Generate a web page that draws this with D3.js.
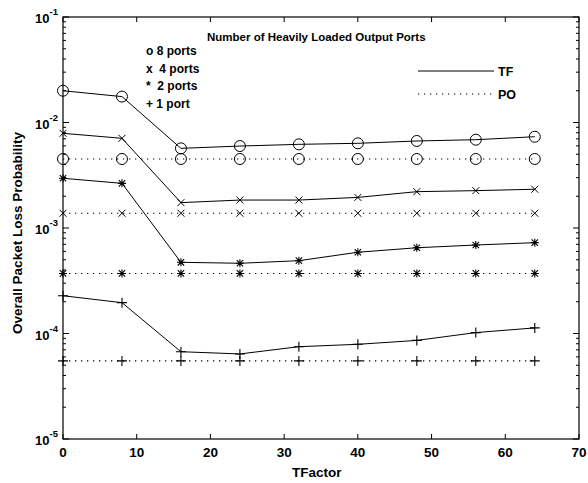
<!DOCTYPE html>
<html><head><meta charset="utf-8">
<script src="https://cdn.jsdelivr.net/npm/d3@7/dist/d3.min.js"></script>
<style>
html,body{margin:0;padding:0;background:#fff;}
svg{display:block;font-family:"Liberation Sans",Arial,Helvetica,sans-serif;}
</style></head>
<body>
<svg id="c" width="588" height="483"></svg>
<script>
// ---- data ----
const tfactor = [0, 8, 16, 24, 32, 40, 48, 56, 64];
const tf8 = [0.0200, 0.0176, 0.00569, 0.00598, 0.00621, 0.00635, 0.00668, 0.00687, 0.00733];
const po8 = [0.00451, 0.00451, 0.00451, 0.00451, 0.00451, 0.00451, 0.00451, 0.00451, 0.00451];
const tf4 = [0.0079, 0.00708, 0.00174, 0.00184, 0.00184, 0.00195, 0.00221, 0.00226, 0.00233];
const po4 = [0.00138, 0.00138, 0.00138, 0.00138, 0.00138, 0.00138, 0.00138, 0.00138, 0.00138];
const tf2 = [0.00296, 0.00265, 0.000473, 0.000463, 0.00049, 0.000589, 0.00065, 0.00069, 0.000726];
const po2 = [0.000371, 0.000371, 0.000371, 0.000371, 0.000371, 0.000371, 0.000371, 0.000371, 0.000371];
const tf1 = [0.000228, 0.000196, 0.0000672, 0.000064, 0.000075, 0.000079, 0.000086, 0.000102, 0.000113];
const po1 = [0.000055, 0.000055, 0.000055, 0.000055, 0.000055, 0.000055, 0.000055, 0.000055, 0.000055];
const xTicks = [0, 10, 20, 30, 40, 50, 60, 70];
const yDecades = [-5, -4, -3, -2, -1];
const legendPorts = ["o 8 ports", "x  4 ports", "*  2 ports", "+ 1 port"];
const legendTitle = "Number of Heavily Loaded Output Ports";
const legendLines = ["TF", "PO"];
const xLabel = "TFactor";
const yLabel = "Overall Packet Loss Probability";

const series = [
  {vals: tf8, marker: "o", dotted: false}, {vals: po8, marker: "o", dotted: true},
  {vals: tf4, marker: "x", dotted: false}, {vals: po4, marker: "x", dotted: true},
  {vals: tf2, marker: "*", dotted: false}, {vals: po2, marker: "*", dotted: true},
  {vals: tf1, marker: "+", dotted: false}, {vals: po1, marker: "+", dotted: true}
];

// ---- layout ----
const L = 63, R = 579, T = 17, B = 439;
const svg = d3.select("#c");
const x = d3.scaleLinear().domain([0, 70]).range([L, R]);
const y = d3.scaleLog().domain([1e-5, 1e-1]).range([B, T]);

const g = svg.append("g");
const ink = "#000";

// frame
g.append("rect").attr("x", L).attr("y", T).attr("width", R - L).attr("height", B - T)
  .attr("fill", "none").attr("stroke", ink).attr("stroke-width", 1.2);

// x ticks (inward, top & bottom)
xTicks.forEach(v => {
  const px = x(v);
  g.append("line").attr("x1", px).attr("x2", px).attr("y1", B).attr("y2", B - 5).attr("stroke", ink);
  g.append("line").attr("x1", px).attr("x2", px).attr("y1", T).attr("y2", T + 5).attr("stroke", ink);
  g.append("text").attr("x", px).attr("y", B + 18).attr("text-anchor", "middle")
    .attr("font-size", 13.5).attr("font-weight", "bold").attr("fill", ink).text(v);
});

// y ticks: decades major + minor
yDecades.forEach(d => {
  const base = Math.pow(10, d);
  const py = y(base);
  g.append("line").attr("x1", L).attr("x2", L + 6).attr("y1", py).attr("y2", py).attr("stroke", ink);
  g.append("line").attr("x1", R).attr("x2", R - 6).attr("y1", py).attr("y2", py).attr("stroke", ink);
  const t = g.append("text").attr("x", 35).attr("y", py + 6).attr("font-size", 13).attr("font-weight", "bold").attr("fill", ink);
  t.append("tspan").text("10");
  t.append("tspan").attr("dy", -8).attr("font-size", 9.5).text(String(d).replace("-", "-"));
  if (d < -1) {
    for (let m = 2; m <= 9; m++) {
      const my = y(base * m);
      g.append("line").attr("x1", L).attr("x2", L + 3).attr("y1", my).attr("y2", my).attr("stroke", ink);
      g.append("line").attr("x1", R).attr("x2", R - 3).attr("y1", my).attr("y2", my).attr("stroke", ink);
    }
  }
});

// axis labels
g.append("text").attr("x", 292).attr("y", 477).attr("font-size", 13.5).attr("font-weight", "bold").attr("fill", ink).text(xLabel);
g.append("text").attr("transform", "translate(22,233) rotate(-90)").attr("text-anchor", "middle")
  .attr("font-size", 13.5).attr("font-weight", "bold").attr("fill", ink).text(yLabel);

// markers
function drawMarker(sel, type, cx, cy) {
  if (type === "o") {
    sel.append("circle").attr("cx", cx).attr("cy", cy).attr("r", 5.5).attr("fill", "none").attr("stroke", ink).attr("stroke-width", 1);
  } else if (type === "x") {
    const s = 3.5;
    sel.append("path").attr("d", `M${cx - s},${cy - s}L${cx + s},${cy + s}M${cx - s},${cy + s}L${cx + s},${cy - s}`).attr("stroke", ink).attr("stroke-width", 1);
  } else if (type === "*") {
    const s = 4, d = 3.2;
    sel.append("path").attr("d", `M${cx},${cy - s}L${cx},${cy + s}M${cx - s},${cy}L${cx + s},${cy}M${cx - d},${cy - d}L${cx + d},${cy + d}M${cx - d},${cy + d}L${cx + d},${cy - d}`).attr("stroke", ink).attr("stroke-width", 1.1);
  } else if (type === "+") {
    const s = 5;
    sel.append("path").attr("d", `M${cx},${cy - s}L${cx},${cy + s}M${cx - s},${cy}L${cx + s},${cy}`).attr("stroke", ink).attr("stroke-width", 1.1);
  }
}

const line = d3.line().x((d, i) => x(tfactor[i])).y(d => y(d));
series.forEach(s => {
  g.append("path").attr("d", line(s.vals)).attr("fill", "none").attr("stroke", ink)
    .attr("stroke-width", s.dotted ? 1.1 : 1)
    .attr("stroke-dasharray", s.dotted ? "1.3,4.7" : null);
  const mg = g.append("g");
  s.vals.forEach((v, i) => drawMarker(mg, s.marker, x(tfactor[i]), y(v)));
});

// legend text
g.append("text").attr("x", 207).attr("y", 41).attr("font-size", 11.5).attr("font-weight", "bold").attr("fill", ink).text(legendTitle);
legendPorts.forEach((t, i) => {
  g.append("text").attr("x", 146).attr("y", 55 + i * 17.6).attr("font-size", 12).attr("font-weight", "bold").attr("fill", ink)
    .attr("xml:space", "preserve").style("white-space", "pre").text(t);
});
legendLines.forEach((t, i) => {
  const ly = 71 + i * 23;
  g.append("line").attr("x1", 418).attr("x2", 494).attr("y1", ly).attr("y2", ly).attr("stroke", ink)
    .attr("stroke-width", i ? 1.1 : 1).attr("stroke-dasharray", i ? "1.3,4.7" : null);
  g.append("text").attr("x", 498).attr("y", ly + 4.5).attr("font-size", 12.5).attr("font-weight", "bold").attr("fill", ink).text(t);
});
</script>
</body></html>
